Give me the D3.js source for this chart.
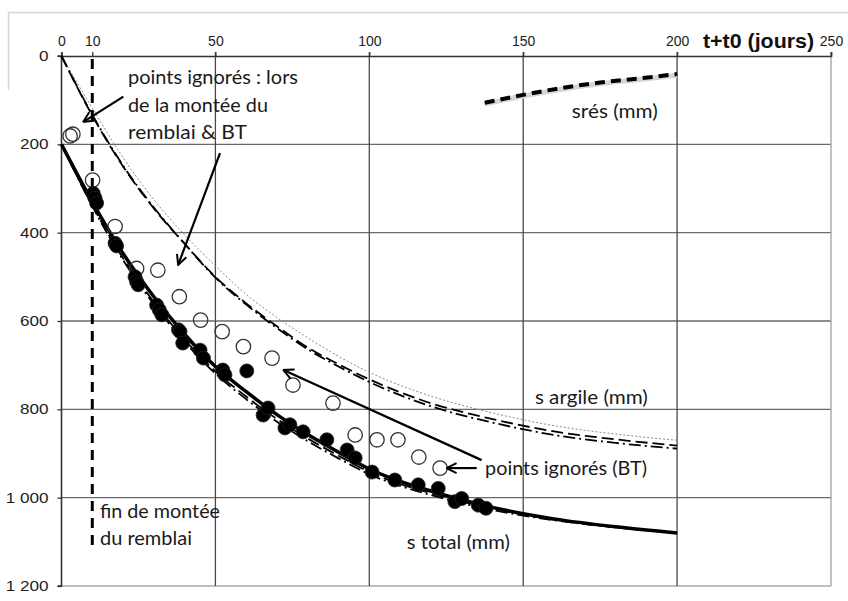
<!DOCTYPE html>
<html><head><meta charset="utf-8">
<script src="https://cdn.jsdelivr.net/npm/d3@7"></script>
<style>html,body{margin:0;padding:0;background:#fff;}svg{display:block;}</style>
</head><body>
<svg id="c" width="848" height="601"></svg>
<script>
// ---- data ----
const xTicks = [0, 10, 50, 100, 150, 200, 250];
const xGrid = [50, 100, 150, 200, 250];
const yTicks = [0, 200, 400, 600, 800, 1000, 1200];
const yTickLabels = ["0", "200", "400", "600", "800", "1 000", "1 200"];

const days = [0, 10, 20, 30, 40, 50, 60, 70, 80, 90, 100, 120, 140, 160, 180, 200];
const sArgileDash    = [0, 135, 250, 345, 425, 500, 560, 612, 660, 698, 732, 786, 822, 850, 868, 882];
const sArgileDashDot = [0, 133, 248, 343, 425, 502, 563, 616, 664, 703, 738, 793, 830, 858, 876, 889];
const sArgileGrey    = [0, 118, 230, 325, 405, 475, 540, 592, 638, 680, 716, 770, 808, 837, 856, 870];
const sTotalSolid    = [200, 330, 447, 545, 630, 703, 760, 812, 857, 897, 935, 985, 1022, 1048, 1066, 1080];
const sTotalDash     = [200, 338, 458, 557, 642, 714, 771, 822, 866, 905, 942, 990, 1025, 1050, 1067, 1080];
const sTotalDashDot  = [200, 340, 462, 562, 647, 719, 777, 828, 872, 911, 947, 994, 1028, 1051, 1067, 1080];

const sResDays = [137.5, 150, 162, 175, 188, 200];
const sResVals = [106, 88, 73, 60, 50.5, 41];

const measuredX = [10.3, 10.9, 11.4, 17.4, 17.9, 23.9, 24.4, 24.9, 30.9, 31.8, 32.6, 38, 38.5, 39.4, 45, 46.1, 52.4, 53.1, 60.2,
  65.5, 67.1, 72.6, 74.2, 78.5, 86.2, 92.8, 95.4, 100.9, 108.3, 115.9, 122.4, 127.8, 130, 135.4, 137.9];
const measuredY = [311, 322, 333, 424, 430, 500, 511, 518, 564, 575, 586, 620, 624, 650, 666, 684, 711, 722, 713,
  813, 797, 842, 835, 851, 869, 892, 910, 942, 960, 971, 979, 1009, 1002, 1017, 1024];

const ignoredX = [2.8, 3.7, 10.1, 17.4, 24.4, 31.3, 38.3, 45.2, 52.2, 59.1, 68.4, 75.2, 88.2, 95.4, 102.5, 109.3, 116.1, 123];
const ignoredY = [181, 177, 281, 386, 481, 485, 545, 598, 624, 658, 684, 745, 786, 858, 869, 869, 908, 933];

const fillDay = 10;

// ---- layout ----
const svg = d3.select("#c");
const x = d3.scaleLinear().domain([0, 250]).range([61.5, 831]);
const y = d3.scaleLinear().domain([0, 1200]).range([56, 586]);
const annFont = "Lato, 'Open Sans', sans-serif";
const axFont = "'Liberation Sans', Arial, sans-serif";

// chart-area border (partial, light)
svg.append("line").attr("x1", 8).attr("x2", 848).attr("y1", 12.5).attr("y2", 12.5).attr("stroke", "#d4d4d4").attr("stroke-width", 1.5);
svg.append("line").attr("x1", 8.5).attr("x2", 8.5).attr("y1", 12).attr("y2", 90).attr("stroke", "#d4d4d4").attr("stroke-width", 1.5);

// gridlines
svg.append("g").selectAll("line").data(yTicks.filter(d => d > 0)).join("line")
  .attr("x1", x(0)).attr("x2", x(250)).attr("y1", d => y(d)).attr("y2", d => y(d))
  .attr("stroke", d => d === 1200 ? "#aaa" : "#6a6a6a").attr("stroke-width", 1.3);
svg.append("g").selectAll("line").data(xGrid).join("line")
  .attr("x1", d => x(d)).attr("x2", d => x(d)).attr("y1", y(0) - 4).attr("y2", y(1200))
  .attr("stroke", d => d === 250 ? "#a0a0a0" : "#4a4a4a").attr("stroke-width", 1.3);

// axes
const gx = svg.append("g").attr("transform", `translate(0,${y(0)})`)
  .call(d3.axisTop(x).tickValues(xTicks).tickSize(4).tickPadding(6).tickFormat(d3.format("d")));
const gy = svg.append("g").attr("transform", `translate(${x(0)},0)`)
  .call(d3.axisLeft(y).tickValues(yTicks).tickSize(4).tickPadding(9).tickFormat((d, i) => yTickLabels[i]));
[gx, gy].forEach(g => {
  g.select(".domain").attr("stroke", "#333").attr("stroke-width", 1.6);
  g.selectAll(".tick line").attr("stroke", "#333").attr("stroke-width", 1.3);
  g.selectAll(".tick text").attr("font-family", axFont).attr("font-size", 14).attr("fill", "#222");
});
gy.select(".domain").attr("d", `M-4,${y(0)}H0V${y(1200)}H-4`);
gy.selectAll(".tick text").attr("font-size", 14.5).each(function () {
  const w = this.getComputedTextLength();
  d3.select(this).attr("textLength", w * 1.18).attr("lengthAdjust", "spacingAndGlyphs");
});

// axis title
svg.append("text").attr("x", 703).attr("y", 48).text("t+t0 (jours)")
  .attr("font-family", axFont).attr("font-weight", "bold").attr("font-size", 21).attr("fill", "#111")
  .attr("textLength", 111).attr("lengthAdjust", "spacingAndGlyphs");

// fin de montée line
svg.append("line").attr("x1", x(fillDay)).attr("x2", x(fillDay)).attr("y1", y(0) + 3).attr("y2", y(1118))
  .attr("stroke", "#000").attr("stroke-width", 3).attr("stroke-dasharray", "10,7");

// curves
const line = (xs, ys) => d3.line().x((d, i) => x(xs[i])).y((d, i) => y(ys[i])).curve(d3.curveMonotoneX)(ys);
const curves = [
  { v: sArgileGrey, s: "#8a8a8a", w: 1, da: "2,2" },
  { v: sArgileDash, s: "#000", w: 1.8, da: "12,5" },
  { v: sArgileDashDot, s: "#000", w: 1.8, da: "12,4,2,4" },
  { v: sTotalDashDot, s: "#000", w: 1.8, da: "12,4,2,4" },
  { v: sTotalDash, s: "#000", w: 1.8, da: "12,5" },
  { v: sTotalSolid, s: "#000", w: 3.5, da: null },
];
curves.forEach(c => {
  svg.append("path").attr("d", line(days, c.v)).attr("fill", "none").attr("stroke", c.s)
    .attr("stroke-width", c.w).attr("stroke-dasharray", c.da);
});
// srés
svg.append("path").attr("d", line(sResDays, sResVals)).attr("fill", "none").attr("stroke", "#d6d6d6").attr("stroke-width", 5)
  .attr("transform", "translate(0,1.2)");
svg.append("path").attr("d", line(sResDays, sResVals)).attr("fill", "none").attr("stroke", "#000").attr("stroke-width", 4)
  .attr("stroke-dasharray", "10,6");

// points
svg.append("g").selectAll("circle").data(ignoredX).join("circle")
  .attr("cx", d => x(d)).attr("cy", (d, i) => y(ignoredY[i])).attr("r", 7.2)
  .attr("fill", "#fff").attr("fill-opacity", 0).attr("stroke", "#333").attr("stroke-width", 1.3);
svg.append("g").selectAll("circle").data(measuredX).join("circle")
  .attr("cx", d => x(d)).attr("cy", (d, i) => y(measuredY[i])).attr("r", 7)
  .attr("fill", "#000").attr("stroke", "#222").attr("stroke-width", 0.8);

// arrows
svg.append("defs").append("marker").attr("id", "ah").attr("viewBox", "0 0 12 12").attr("refX", 11).attr("refY", 6)
  .attr("markerWidth", 12).attr("markerHeight", 12).attr("markerUnits", "userSpaceOnUse").attr("orient", "auto")
  .append("path").attr("d", "M1,1 L11,6 L1,11").attr("fill", "none").attr("stroke", "#000").attr("stroke-width", 2);
const arrows = [
  [20.1, 92, 7.1, 149],
  [51.5, 220, 37.9, 473],
  [136.5, 915, 72.1, 711],
  [134.9, 933, 125.1, 933],
];
arrows.forEach(a => {
  svg.append("line").attr("x1", x(a[0])).attr("y1", y(a[1])).attr("x2", x(a[2])).attr("y2", y(a[3]))
    .attr("stroke", "#000").attr("stroke-width", 2.2).attr("marker-end", "url(#ah)");
});

// annotations: [day, mm, text, width px]
const anns = [
  [21.6, 47, "points ignorés : lors", 170],
  [21.6, 111, "de la montée du", 140],
  [21.6, 171, "remblai & BT", 119],
  [12.5, 1031, "fin de montée", 120],
  [12.5, 1092, "du remblai", 92],
  [137.6, 933, "points ignorés (BT)", 162],
  [153.8, 772, "s argile (mm)", 113],
  [112.2, 1100, "s total (mm)", 103],
  [165.8, 124, "srés (mm)", 86],
];
anns.forEach(a => {
  svg.append("text").attr("x", x(a[0])).attr("y", y(a[1])).attr("dy", "0.35em").text(a[2])
    .attr("font-family", annFont).attr("font-size", 20).attr("fill", "#1a1a1a")
    .attr("textLength", a[3]).attr("lengthAdjust", "spacingAndGlyphs");
});
</script>
</body></html>
